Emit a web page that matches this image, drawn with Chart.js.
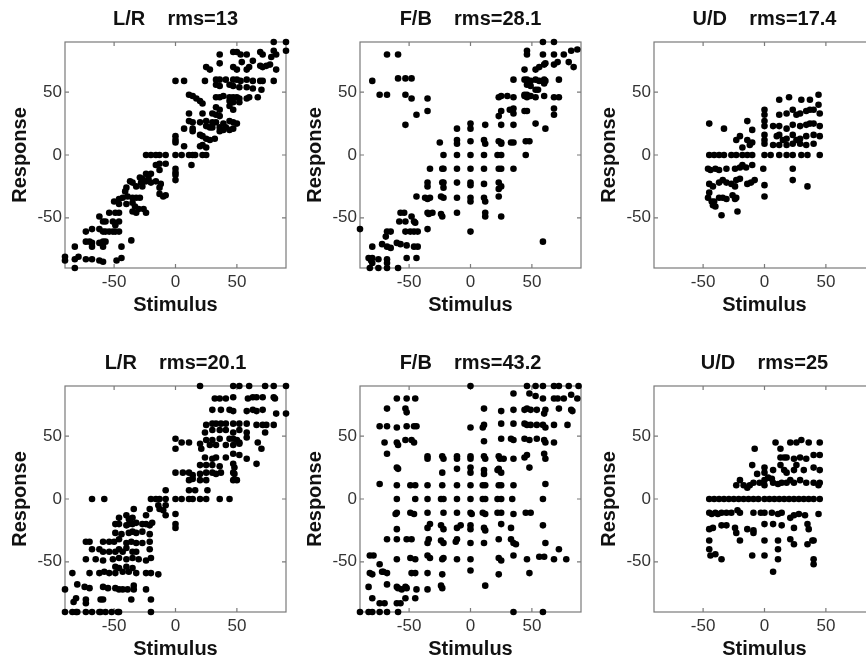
<!DOCTYPE html>
<html><head><meta charset="utf-8">
<script src="https://cdn.jsdelivr.net/npm/chart.js@4.4.1/dist/chart.umd.min.js"></script>
<style>
html,body{margin:0;padding:0;background:#fff;width:866px;height:662px;overflow:hidden;position:relative;}
canvas{position:absolute;}
</style></head><body>
<canvas id="c0" width="351" height="320" style="left:0px;top:0px"></canvas>
<canvas id="c1" width="351" height="320" style="left:295px;top:0px"></canvas>
<canvas id="c2" width="351" height="320" style="left:589px;top:0px"></canvas>
<canvas id="c3" width="351" height="320" style="left:0px;top:344px"></canvas>
<canvas id="c4" width="351" height="320" style="left:295px;top:344px"></canvas>
<canvas id="c5" width="351" height="320" style="left:589px;top:344px"></canvas>
<script>
const tickValues = [-50, 0, 50];
const axisMin = -90, axisMax = 90;
const panelTitles = ['L/R    rms=13', 'F/B    rms=28.1', 'U/D    rms=17.4', 'L/R    rms=20.1', 'F/B    rms=43.2', 'U/D    rms=25'];
const xAxisTitle = 'Stimulus';
const yAxisTitle = 'Response';

const lrUpper = [[80,90],[90,90],[90,83],[80,83],[82,80],[36,80],[47,82],[50,82],[53,80],[58,80],[69,82],[71,80],[78,78],
[36,73],[54,74],[63,75],[69,71],[71,70],[74,71],[77,72],[25,70],[28,68],[47,70],[50,68],[58,68],[60,70],[82,68],
[0,59],[7,59],[24,59],[33,60],[36,60],[41,60],[47,60],[50,60],[53,59],[58,60],[63,59],[69,59],[71,59],[80,59],
[33,56],[36,55],[44,56],[47,55],[52,54],[58,54],[63,53],[70,52],
[11,48],[14,47],[17,45],[20,43],[22,41],[33,46],[36,46],[39,47],[44,46],[47,46],[50,46],[52,45],[58,45],[60,46],[67,46],
[44,43],[47,42],[52,42],[33,38],[36,36],[44,39],[47,36],
[11,33],[22,33],[30,33],[33,32],[36,31],
[11,27],[14,26],[20,26],[25,27],[30,26],[33,26],[39,25],[44,27],[47,26],[50,25],
[25,23],[28,22],[30,22],[36,22],[41,22],[47,21],
[7,21],[14,21],[14,19],[36,19],[39,20],[44,20],
[20,16],[22,15],[25,13],[28,12],[32,13],
[0,15],[0,12],[0,10],[7,7],[20,7],[22,8],[25,6],
[-24,0],[-20,0],[-16,0],[-13,0],[-8,0],[0,0],[5,0],[11,0],[14,0],[16,0],[22,0],[25,0],
[13,-8],[-16,-8],[-13,-7],[-8,-7],[0,-11],[0,-14],[0,-16],[0,-20],[-13,-12],
[-24,-15],[-20,-15],[-22,-19],[-24,-21],[-20,-22],[-16,-21],
[-29,-18],[-27,-19],[-28,-22],[-27,-25],
[-12,-23],[-13,-26],[-13,-31],[-10,-33],[-8,-32],
[-37,-21],[-35,-22],[-32,-25],[-40,-26],[-41,-29],
[-50,-37],[-46,-35],[-43,-34],[-39,-33],[-35,-34],[-32,-34],[-29,-34],
[-46,-39],[-40,-39],[-35,-38],[-33,-41],[-30,-43],
[-54,-46],[-49,-46],[-46,-46],[-35,-45],[-32,-46],[-26,-43],[-24,-46],
[-62,-49],[-59,-53],[-57,-53],[-51,-53],[-49,-56],[-46,-53],
[-62,-59],[-59,-61],[-57,-61],[-54,-61],[-51,-61],[-49,-61],[-46,-61],
[-73,-61],[-68,-59],[-36,-68],
[-73,-69],[-70,-69],[-68,-70],[-62,-70],[-59,-69],[-57,-69],
[-82,-73],[-68,-73],[-59,-73],[-44,-73],
[-90,-81],[-82,-83],[-79,-81],[-73,-83],[-68,-83],[-62,-84],[-59,-85],[-48,-84],[-44,-82],
[-90,-84],[-82,-90]];

const fbUpper = [[-68,80],[-59,80],[-80,59],[-74,48],[-68,48],[-59,61],[-53,61],[-48,61],[-53,48],[-48,45],[-35,45],[-35,35],[-44,32],[-53,24],
[59,90],[68,90],[46,83],[46,80],[59,80],[68,80],[82,83],[87,84],[76,80],
[44,68],[53,68],[56,70],[60,72],[61,73],[68,72],[71,74],[80,74],[84,70],
[35,60],[44,60],[46,60],[49,59],[53,60],[56,59],[60,60],[61,59],[72,60],
[46,56],[49,55],[53,52],[55,52],[60,57],
[23,46],[25,47],[30,47],[35,46],[44,47],[46,46],[49,47],[53,46],[60,47],[68,46],[72,46],
[44,48],[46,48],
[25,35],[32,36],[35,37],[35,33],[44,35],[46,35],[68,37],[68,32],
[12,24],[23,31],[25,24],[35,24],[53,25],[61,21],[0,25],[0,21],[-11,21],
[23,11],[25,10],[33,10],[35,10],[45,11],[48,11],
[-25,10],[-11,12],[-11,9],[0,11],[11,12],[12,9],[25,9],
[45,0],[-22,0],[-11,0],[0,0],[11,0],[22,0],[25,0],
[-33,-11],[-23,-11],[-22,-11],[-11,-11],[0,-11],[11,-11],[23,-11],[25,-11],[35,-11],
[-35,-22],[-35,-25],[-23,-22],[-22,-22],[-22,-26],[-11,-22],[0,-22],[0,-24],[11,-23],[23,-22],[25,-25],[23,-27],
[-44,-33],[-37,-34],[-35,-35],[-33,-34],[-24,-33],[-22,-34],[-11,-34],[0,-34],[0,-37],[11,-34],[12,-37],[23,-33],
[-35,-46],[-34,-47],[-31,-46],[-24,-47],[-23,-49],[-11,-46],[12,-46],[12,-49],[25,-49],
[-57,-46],[-54,-46],[-58,-53],[-53,-53],[-48,-49],[-46,-53],[-45,-54],[-46,-61],[-43,-61],[-49,-61],[-53,-61],[-35,-59],
[0,-61],
[-68,-61],[-65,-61],[-69,-65],
[59,-69],
[-60,-70],[-57,-71],[-52,-72],[-46,-73],[-43,-73],
[-80,-73],[-72,-71],[-68,-73],[-65,-74],
[-83,-82],[-80,-82],[-81,-84],[-75,-83],[-68,-83],[-52,-82],[-44,-82],
[-90,-59],
[-82,-90],[-75,-90],[-68,-90],[-59,-90],
[-80,-86],[-68,-86]];

const udUpper = [[-45,25],[-33,21],[-23,12],[-20,15],[-18,6],[-14,12],[-10,20],[-10,10],[-12,8],[-14,27],
[-45,0],[-41,0],[-37,0],[-33,0],[-27,0],[-23,0],[-18,0],[-14,0],[-10,0],[0,0],[5,0],[12,0],[18,0],[23,0],[30,0],[35,0],[45,0],
[0,36],[0,32],[0,27],[0,23],[0,16],[0,12],[0,9],
[12,44],[20,46],[30,44],[37,44],[44,48],
[12,32],[18,33],[23,36],[26,32],[29,33],[34,35],[37,36],[40,36],[44,40],[45,33],
[7,23],[12,23],[18,21],[23,24],[29,23],[34,24],[37,25],[40,25],[45,23],
[10,15],[12,16],[15,12],[18,13],[23,16],[26,12],[29,13],[34,15],[40,16],[45,15],
[7,8],[12,8],[18,8],[23,9],[29,9],[34,8],[40,9],
[23,-11],[23,-20],[35,-25],
[-46,-11],[-44,-12],[-40,-11],[-37,-12],[-31,-11],[-24,-11],[-20,-10],[-18,-8],[-15,-10],[-10,-8],[-1,-11],
[-45,-23],[-42,-25],[-37,-22],[-34,-20],[-31,-22],[-27,-23],[-24,-25],[-23,-20],[-20,-19],[-14,-23],[-11,-22],[-8,-20],
[-46,-34],[-43,-37],[-41,-37],[-37,-34],[-34,-34],[-31,-35],[-23,-34],[-24,-35],
[-42,-40],[-40,-41],[-35,-48],[-22,-45],
[0,-24],[0,-33],
[-45,-30],[-26,-32]];

const lrLower = [[20,90],[47,90],[52,90],[60,90],[73,90],[80,90],[90,90],
[32,80],[36,80],[41,80],[47,81],[59,80],[63,81],[66,81],[71,81],[80,81],[81,80],
[30,71],[37,71],[44,71],[47,70],[58,70],[63,71],[66,70],[71,71],[82,68],[90,68],
[25,59],[30,60],[33,60],[37,60],[41,60],[47,60],[52,60],[58,60],[66,59],[71,59],[74,59],[80,59],
[24,53],[30,55],[36,55],[41,55],[47,53],[52,55],[58,53],[73,53],
[0,48],[0,40],[5,45],[11,45],[20,44],[25,47],[30,47],[36,48],[44,48],[47,48],[50,47],[52,45],[58,49],[67,45],[70,40],
[21,40],[28,43],[33,43],[41,43],[47,43],[52,44],
[24,33],[30,32],[33,33],[41,33],[47,36],[52,35],[58,32],[66,28],
[20,27],[25,27],[30,27],[36,26],[47,28],[48,25],
[0,21],[6,21],[11,21],[14,19],[20,20],[25,21],[30,21],[33,20],[37,21],[47,21],[48,20],
[11,15],[14,16],[20,15],[25,15],[47,15],[50,15],
[11,7],[16,7],[26,7],[-8,7],
[-20,0],[-16,0],[-13,0],[-8,0],[0,0],[5,0],[11,0],[14,0],[20,0],[25,0],[36,0],[44,0],[-68,0],[-58,0],
[-14,-5],[-13,-8],[-10,-9],[-8,-5],[-8,-13],[0,-12],[0,-20],[0,-23],
[-21,-8],[-24,-13],[-34,-8],
[-46,-15],[-40,-13],[-38,-16],[-35,-15],[-32,-19],[-27,-20],[-24,-20],[-21,-21],[-19,-19],
[-49,-20],[-46,-20],[-40,-21],[-38,-20],[-35,-20],
[-49,-27],[-44,-28],[-38,-27],[-35,-26],[-32,-27],[-27,-26],[-21,-28],
[-73,-34],[-70,-34],[-59,-34],[-54,-34],[-50,-34],[-46,-32],[-40,-35],[-36,-34],[-32,-35],[-27,-35],[-21,-34],
[-68,-40],[-62,-40],[-59,-42],[-54,-42],[-49,-42],[-46,-40],[-43,-42],[-40,-39],[-35,-42],[-32,-42],[-21,-40],
[-73,-48],[-65,-48],[-59,-49],[-51,-48],[-46,-47],[-40,-48],[-35,-47],[-30,-48],[-24,-49],[-20,-47],
[-49,-54],[-46,-55],[-40,-54],[-35,-55],
[-84,-59],[-70,-59],[-62,-59],[-58,-58],[-54,-59],[-49,-59],[-43,-58],[-38,-58],[-32,-59],[-24,-59],[-20,-59],[-14,-60],
[-80,-68],[-74,-70],[-70,-71],[-59,-70],[-55,-71],[-49,-71],[-46,-72],[-43,-72],[-39,-72],[-34,-69],[-34,-72],[-24,-72],
[-90,-72],[-81,-79],[-83,-82],[-73,-80],[-73,-83],[-61,-80],[-59,-80],[-36,-80],[-20,-80],
[-90,-90],[-84,-90],[-81,-90],[-80,-90],[-73,-90],[-68,-90],[-62,-90],[-61,-90],[-57,-90],[-52,-90],[-47,-90],[-46,-90],[-20,-90]];

const fbLower = [[0,90],[46,90],[53,90],[59,90],[68,90],[72,90],[80,90],[88,90],
[35,84],[48,84],[53,82],[59,80],[68,80],[71,80],[76,80],[82,83],[87,80],
[11,72],[25,70],[35,71],[44,71],[46,72],[49,71],[54,71],[61,71],[72,72],[82,71],[83,70],[60,68],
[0,57],[10,57],[11,59],[25,60],[35,60],[44,60],[46,59],[49,59],[54,59],[59,59],[61,57],[68,59],[79,59],
[11,46],[25,48],[33,48],[35,47],[44,48],[48,47],[54,48],[60,47],[61,45],[68,45],
[27,32],[35,32],[44,33],[46,35],[48,25],[60,36],[61,32],
[61,12],[59,0],[45,-11],[49,-11],[59,-21],[61,-35],[72,-40],[68,-48],[60,-46],[56,-46],[46,-48],[48,-59],[78,-48],
[-60,80],[-52,80],[-45,80],[-68,72],[-53,72],[-52,69],[-74,58],[-68,58],[-60,57],[-52,58],[-46,58],[-44,58],[-70,45],[-60,45],[-53,47],[-48,47],[-46,45],[-68,36],[-59,43],[-60,25],[-59,24],[-74,12],
[-35,34],[-35,32],[-23,34],[-22,32],[-11,34],[-11,32],[0,34],[0,32],[11,34],[12,32],[23,34],[24,32],
[-23,21],[-11,24],[0,25],[0,21],[11,23],[11,20],[22,23],[23,24],[25,21],
[-60,11],[-49,11],[-45,11],[-35,11],[-23,11],[-11,11],[0,11],[10,11],[12,11],[23,11],[25,11],[35,11],
[-60,0],[-45,0],[-35,0],[-24,0],[-22,0],[-11,0],[0,0],[10,0],[12,0],[22,0],[25,0],[34,0],
[-61,-12],[-60,-11],[-49,-11],[-46,-12],[-35,-11],[-22,-11],[-11,-11],[0,-11],[1,-12],[10,-11],[12,-12],[22,-11],[25,-11],[35,-12],
[-60,-24],[-35,-23],[-33,-20],[-24,-21],[-22,-24],[-11,-23],[-8,-21],[0,-21],[0,-24],[11,-23],[12,-25],[25,-20],[33,-23],
[-68,-32],[-60,-32],[-52,-32],[-48,-32],[-35,-35],[-34,-32],[-24,-33],[-22,-35],[-12,-34],[-11,-32],[0,-35],[11,-35],[23,-32],[33,-32],[35,-35],[37,-36],
[-82,-45],[-79,-45],[-60,-48],[-49,-47],[-45,-48],[-35,-45],[-33,-47],[-23,-48],[-22,-47],[-11,-48],[0,-48],[23,-47],[25,-49],[35,-45],
[-74,-52],[-72,-58],[-71,-58],[-68,-59],[-82,-59],[-80,-60],
[-48,-59],[-45,-59],[-35,-59],[-23,-60],[0,-57],[23,-60],
[-83,-70],[-68,-68],[-60,-70],[-59,-71],[-56,-72],[-53,-70],[-52,-71],[-44,-72],[-35,-72],[-24,-69],[-23,-71],[12,-69],
[-80,-79],[-53,-79],[-45,-79],[-74,-83],[-70,-83],[-60,-83],[-57,-83],
[-90,-90],[-83,-90],[-80,-90],[-74,-90],[-68,-90],[-59,-90],[35,-90],[59,-90]];

const udLower = [[-45,0],[-41,0],[-37,0],[-33,0],[-29,0],[-25,0],[-21,0],[-17,0],[-13,0],[-9,0],[-5,0],[0,0],[4,0],[8,0],[12,0],[16,0],[20,0],[24,0],[28,0],[32,0],[36,0],[40,0],[45,0],
[-8,40],[9,45],[13,40],[21,45],[26,45],[30,47],[36,45],[45,45],
[13,33],[16,33],[18,33],[24,32],[29,33],[34,32],[40,35],[45,35],
[-10,27],[-6,20],[0,25],[0,21],[7,23],[13,27],[16,23],[18,21],[24,23],[26,27],[32,23],[40,25],[45,23],
[-20,15],[-23,11],[-17,11],[-14,9],[-12,11],[-9,13],[-4,13],[0,15],[0,11],[7,13],[11,12],[14,13],[18,13],[21,15],[24,13],[29,15],[34,13],[40,13],[45,13],[44,11],
[3,17],[6,16],
[-45,-11],[-43,-12],[-40,-11],[-38,-12],[-35,-11],[-31,-11],[-27,-11],[-22,-9],[-20,-11],[-9,-11],[-3,-11],[0,-11],[6,-11],[11,-12],[14,-11],[21,-15],[24,-13],[28,-12],[33,-13],[44,-12],
[-45,-24],[-42,-23],[-35,-21],[-31,-21],[-24,-23],[-23,-27],[-14,-24],[-9,-27],[-9,-25],[0,-20],[7,-20],[14,-21],[24,-23],[35,-20],[36,-24],
[-45,-33],[-20,-33],[0,-33],[11,-33],[21,-32],[24,-36],[35,-36],[39,-33],[40,-33],
[-45,-40],[-44,-45],[-40,-44],[-35,-48],[-10,-45],[0,-45],[11,-40],[11,-48],[40,-48],[40,-52],
[7,-58]];

const panelData = [lrUpper, fbUpper, udUpper, lrLower, fbLower, udLower];

Chart.defaults.font.family = '"Liberation Sans", Arial, Helvetica, sans-serif';

const boxPlugin = {
  id: 'boxTicks',
  beforeDatasetsDraw(chart) {
    const {ctx, chartArea: a, scales: {x, y}} = chart;
    ctx.save();
    ctx.strokeStyle = '#7a7a7a';
    ctx.lineWidth = 1.2;
    ctx.strokeRect(a.left, a.top, a.right - a.left, a.bottom - a.top);
    ctx.beginPath();
    tickValues.forEach(v => {
      const px = x.getPixelForValue(v);
      ctx.moveTo(px, a.bottom); ctx.lineTo(px, a.bottom - 4);
      ctx.moveTo(px, a.top); ctx.lineTo(px, a.top + 4);
      const py = y.getPixelForValue(v);
      ctx.moveTo(a.left, py); ctx.lineTo(a.left + 4, py);
      ctx.moveTo(a.right, py); ctx.lineTo(a.right - 4, py);
    });
    ctx.stroke();
    ctx.restore();
  }
};

function setTicks(s) { s.ticks = tickValues.map(v => ({value: v})); }

panelData.forEach((pts, i) => {
  new Chart(document.getElementById('c' + i), {
    type: 'scatter',
    data: { datasets: [{
      data: pts.map(p => ({x: p[0], y: p[1]})),
      backgroundColor: '#000', borderWidth: 0, pointRadius: 3.3, pointHoverRadius: 3.3, clip: false
    }]},
    options: {
      responsive: false, animation: false, devicePixelRatio: 1, events: [],
      layout: { padding: { left: 0, right: 65, top: 0, bottom: 0 } },
      plugins: {
        legend: { display: false }, tooltip: { enabled: false },
        title: { display: true, text: panelTitles[i], fullSize: false, color: '#111',
                 font: { size: 20, weight: 'bold' }, padding: { top: 7.7, bottom: 10.3 } }
      },
      scales: {
        x: { type: 'linear', min: axisMin, max: axisMax, afterBuildTicks: setTicks,
             afterFit: s => { s.height = 52; },
             grid: { display: false, drawTicks: false }, border: { display: false },
             ticks: { color: '#333', font: { size: 17 }, padding: 4, maxRotation: 0 },
             title: { display: true, text: xAxisTitle, color: '#111', font: { size: 20, weight: 'bold' }, padding: { top: 0, bottom: 2.5 } } },
        y: { type: 'linear', min: axisMin, max: axisMax, afterBuildTicks: setTicks,
             afterFit: s => { s.width = 65; },
             grid: { display: false, drawTicks: false }, border: { display: false },
             ticks: { color: '#333', font: { size: 17 }, padding: 3 },
             title: { display: true, text: yAxisTitle, color: '#111', font: { size: 20, weight: 'bold' }, padding: { top: 8.6, bottom: 0 } } }
      }
    },
    plugins: [boxPlugin]
  });
});
</script>
</body></html>
